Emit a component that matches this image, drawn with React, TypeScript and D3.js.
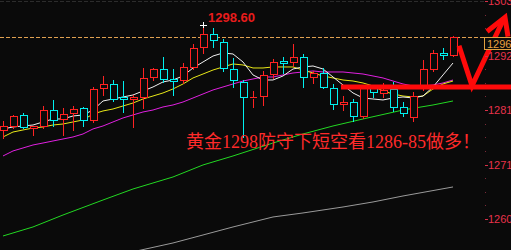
import React from "react";
import * as d3 from "d3";

// Gold candles: open, high, low, close
const opens = [1277.89,1278.68,1280.85,1278.28,1278.68,1281.83,1280.06,1281.24,1282.23,1279.86,1286.17,1286.96,1284.40,1284.00,1284.40,1288.34,1289.92,1287.95,1287.75,1290.32,1294.26,1296.82,1295.25,1289.92,1287.36,1284.20,1284.59,1288.93,1291.50,1291.30,1292.29,1288.34,1289.13,1286.17,1283.02,1283.41,1280.65,1286.37,1285.19,1285.98,1282.43,1280.45,1286.17,1289.92,1293.08,1292.68];
const highs = [1279.86,1281.04,1281.44,1278.87,1282.82,1284.00,1282.43,1282.82,1282.62,1286.57,1288.74,1287.95,1287.75,1284.99,1290.32,1290.32,1292.48,1290.12,1291.30,1295.05,1298.60,1298.20,1296.03,1292.29,1287.95,1285.78,1289.72,1292.09,1292.48,1295.05,1293.08,1289.72,1290.32,1287.16,1284.79,1284.20,1286.96,1286.96,1287.36,1287.55,1283.61,1285.58,1291.89,1293.87,1294.26,1296.63];
const lows = [1276.31,1278.28,1278.28,1276.90,1278.28,1278.68,1276.90,1277.89,1278.68,1279.47,1284.79,1283.61,1281.44,1278.48,1282.23,1287.75,1287.36,1284.79,1287.16,1289.92,1293.08,1294.26,1289.53,1286.37,1276.51,1282.43,1282.82,1288.15,1289.13,1290.51,1286.37,1287.16,1286.17,1282.03,1281.83,1279.66,1280.26,1284.40,1284.40,1281.64,1280.65,1279.66,1285.78,1289.53,1291.89,1292.48];
const closes = [1278.68,1280.65,1278.48,1278.68,1281.83,1279.86,1281.04,1282.03,1279.86,1285.98,1286.96,1284.00,1284.00,1284.40,1288.15,1289.92,1287.95,1287.55,1290.32,1294.06,1296.82,1295.64,1290.12,1287.75,1284.40,1284.40,1288.74,1291.30,1291.10,1292.29,1288.34,1289.13,1286.37,1283.02,1283.41,1280.65,1286.57,1285.38,1285.78,1282.43,1281.24,1284.59,1289.92,1293.08,1292.68,1296.23];

// Moving averages, one value per candle
const ma5 = [1278.09,1278.48,1278.68,1278.87,1279.47,1280.06,1280.06,1280.65,1280.85,1281.83,1283.61,1284.00,1284.40,1284.79,1285.58,1286.37,1287.36,1287.75,1288.54,1290.12,1291.30,1292.48,1293.08,1292.88,1291.30,1288.74,1287.75,1287.75,1288.54,1289.92,1290.32,1290.51,1289.92,1288.34,1286.76,1285.19,1284.20,1284.00,1283.81,1284.20,1284.40,1284.20,1284.59,1286.37,1288.74,1291.10];
const ma10 = [1276.51,1277.49,1277.89,1278.28,1278.48,1278.87,1279.07,1279.47,1279.86,1281.04,1281.64,1282.03,1282.62,1283.21,1284.00,1284.59,1285.19,1285.98,1286.96,1288.15,1288.93,1289.72,1290.32,1290.91,1290.71,1290.12,1290.12,1290.32,1290.32,1290.32,1289.72,1289.13,1288.54,1288.15,1287.75,1287.55,1287.16,1286.57,1285.58,1284.99,1284.59,1284.40,1284.59,1285.98,1286.96,1287.55];
const ma20 = [1272.76,1273.75,1274.34,1274.93,1275.32,1275.72,1276.11,1276.51,1277.10,1278.09,1278.68,1279.47,1280.26,1280.85,1281.44,1281.83,1282.43,1282.82,1283.41,1284.20,1284.99,1285.78,1286.37,1286.96,1287.55,1287.95,1288.34,1288.34,1288.74,1289.13,1289.33,1289.53,1289.33,1289.33,1289.33,1289.13,1288.93,1288.54,1288.15,1287.55,1286.96,1286.57,1286.57,1286.76,1287.16,1287.75];
// Slow averages, sampled at [candle index, price]
const ma60: [number, number][] = [[0,1256.98],[3,1258.76],[6,1261.12],[10,1264.08],[13,1266.25],[17,1268.62],[20,1270.99],[23,1272.76],[27,1275.32],[30,1277.10],[33,1278.68],[36,1280.06],[40,1281.83],[43,1282.82],[45,1283.61]];
const ma120: [number, number][] = [[12,1253.43],[17,1255.60],[20,1257.18],[23,1258.76],[27,1260.73],[30,1261.52],[34,1262.70],[37,1263.69],[40,1264.87],[45,1266.65]];

const axisTicks = [1303.33, 1292.58, 1281.83, 1271.08, 1260.33];
const dayHigh = 1298.6;
const supportLevel = 1286.37;
const lastPrice = 1296.23;
const noteText = "黄金1298防守下短空看1286-85做多！";

// Hand-drawn V arrow, in [candle index, price]
const vArrow: [number, number][] = [[45.6, 1294.5], [46.9, 1286.6], [50.1, 1299.9]];
const arrowHead: [number, number][] = [[48.4, 1297.3], [50.2, 1300.1], [50.5, 1296.3]];

const W = 511;
const H = 250;
const UP = "#ff2222";
const DOWN = "#00f0f0";

export default function App() {
  const x = d3.scaleLinear().domain([0, 45]).range([3, 453]);
  const y = d3.scaleLinear().domain([1260.33, 1303.33]).range([219, 1]);
  const axisX = 485;
  const line = d3.line<number>().x((_, i) => x(i)).y((d) => y(d));
  const pairLine = d3.line<[number, number]>().x((d) => x(d[0])).y((d) => y(d[1]));
  const hw = 3.5;
  const highIdx = highs.indexOf(dayHigh);
  const minorTicks: number[] = [];
  for (let k = 0; k < axisTicks.length - 1; k++) {
    const a = axisTicks[k + 1];
    const step = (axisTicks[k] - a) / 4;
    for (let j = 1; j < 4; j++) minorTicks.push(a + step * j);
  }

  return (
    <svg width={W} height={H} style={{ position: "absolute", left: 0, top: 0, background: "#0a0a0a" }}
      fontFamily="'Liberation Sans', Arial, sans-serif">
      <rect width={W} height={H} fill="#0a0a0a" />
      {/* top grid line */}
      <line x1={0} x2={axisX} y1={Math.round(y(axisTicks[0])) + 0.5} y2={Math.round(y(axisTicks[0])) + 0.5}
        stroke="#2c2c2c" strokeDasharray="4,2" />
      {/* slow averages */}
      <path d={pairLine(ma120) ?? ""} fill="none" stroke="#9a9a9a" strokeWidth={1} />
      <path d={pairLine(ma60) ?? ""} fill="none" stroke="#22d822" strokeWidth={1} />
      <path d={line(ma20) ?? ""} fill="none" stroke="#e020e0" strokeWidth={1} />
      <path d={line(ma10) ?? ""} fill="none" stroke="#e8e818" strokeWidth={1} />
      <path d={line(ma5) ?? ""} fill="none" stroke="#f0f0f0" strokeWidth={1} />
      {/* last price line */}
      <line x1={0} x2={axisX - 1} y1={Math.round(y(lastPrice)) + 0.5} y2={Math.round(y(lastPrice)) + 0.5}
        stroke="#e0a050" strokeDasharray="4,2" />
      {/* candles */}
      {closes.map((c, i) => {
        const o = opens[i];
        const up = c >= o;
        const col = up ? UP : DOWN;
        const cx = Math.round(x(i)) + 0.5;
        const top = Math.round(y(Math.max(o, c))) + 0.5;
        const bot = Math.round(y(Math.min(o, c))) + 0.5;
        const hy = Math.round(y(highs[i])) + 0.5;
        const ly = Math.round(y(lows[i])) + 0.5;
        return (
          <g key={i} stroke={col} strokeWidth={1} shapeRendering="crispEdges">
            <line x1={cx} x2={cx} y1={hy} y2={top} />
            <line x1={cx} x2={cx} y1={bot} y2={ly} />
            {bot - top < 1.5 ? (
              <line x1={cx - hw} x2={cx + hw} y1={top} y2={top} />
            ) : (
              <rect x={cx - hw} y={top} width={hw * 2} height={bot - top} fill="#0a0a0a" />
            )}
          </g>
        );
      })}
      {/* high marker */}
      <g stroke="#ffffff" strokeWidth={1} shapeRendering="crispEdges">
        <line x1={x(highIdx) - 3} x2={x(highIdx) + 4} y1={Math.round(y(dayHigh)) + 0.5} y2={Math.round(y(dayHigh)) + 0.5} />
        <line x1={Math.round(x(highIdx)) + 0.5} x2={Math.round(x(highIdx)) + 0.5} y1={y(dayHigh) - 3} y2={y(dayHigh) + 3} />
      </g>
      <text x={x(highIdx) + 5} y={y(dayHigh) - 2.5} fill="#e81c1c" fontSize={13} fontWeight="bold">
        {dayHigh.toFixed(2)}
      </text>
      {/* support line and arrow */}
      <line x1={x(33.8)} x2={W} y1={y(supportLevel)} y2={y(supportLevel)} stroke="#ff0a0a" strokeWidth={5} />
      <path d={pairLine(vArrow) ?? ""} fill="none" stroke="#ff0a0a" strokeWidth={5} strokeLinejoin="miter" />
      <path d={pairLine(arrowHead) ?? ""} fill="none" stroke="#ff0a0a" strokeWidth={5} strokeLinejoin="miter" />
      {/* annotation */}
      <text x={186} y={148} fill="#ff2a2a" fontSize={18}
        fontFamily="'Liberation Serif', 'DejaVu Serif', 'Noto Sans CJK SC', serif">
        {noteText}
      </text>
      {/* right axis */}
      {axisTicks.map((t) => (
        <g key={t}>
          <line x1={axisX} x2={axisX + 3} y1={Math.round(y(t)) + 0.5} y2={Math.round(y(t)) + 0.5} stroke="#d83048" />
          <text x={axisX + 3} y={y(t) + 4} fill="#e8324a" fontSize={11}>{Math.floor(t)}</text>
        </g>
      ))}
      {minorTicks.map((t) => (
        <rect key={t} x={axisX} y={Math.round(y(t))} width={1} height={1} fill="#7a2a38" />
      ))}
      <rect x={484.5} y={Math.round(y(lastPrice)) + 0.5} width={30} height={12} fill="#0a0a0a" stroke="#e0a040" />
      <text x={487} y={y(lastPrice) + 11} fill="#e8a040" fontSize={11}>{Math.floor(lastPrice)}</text>
    </svg>
  );
}
